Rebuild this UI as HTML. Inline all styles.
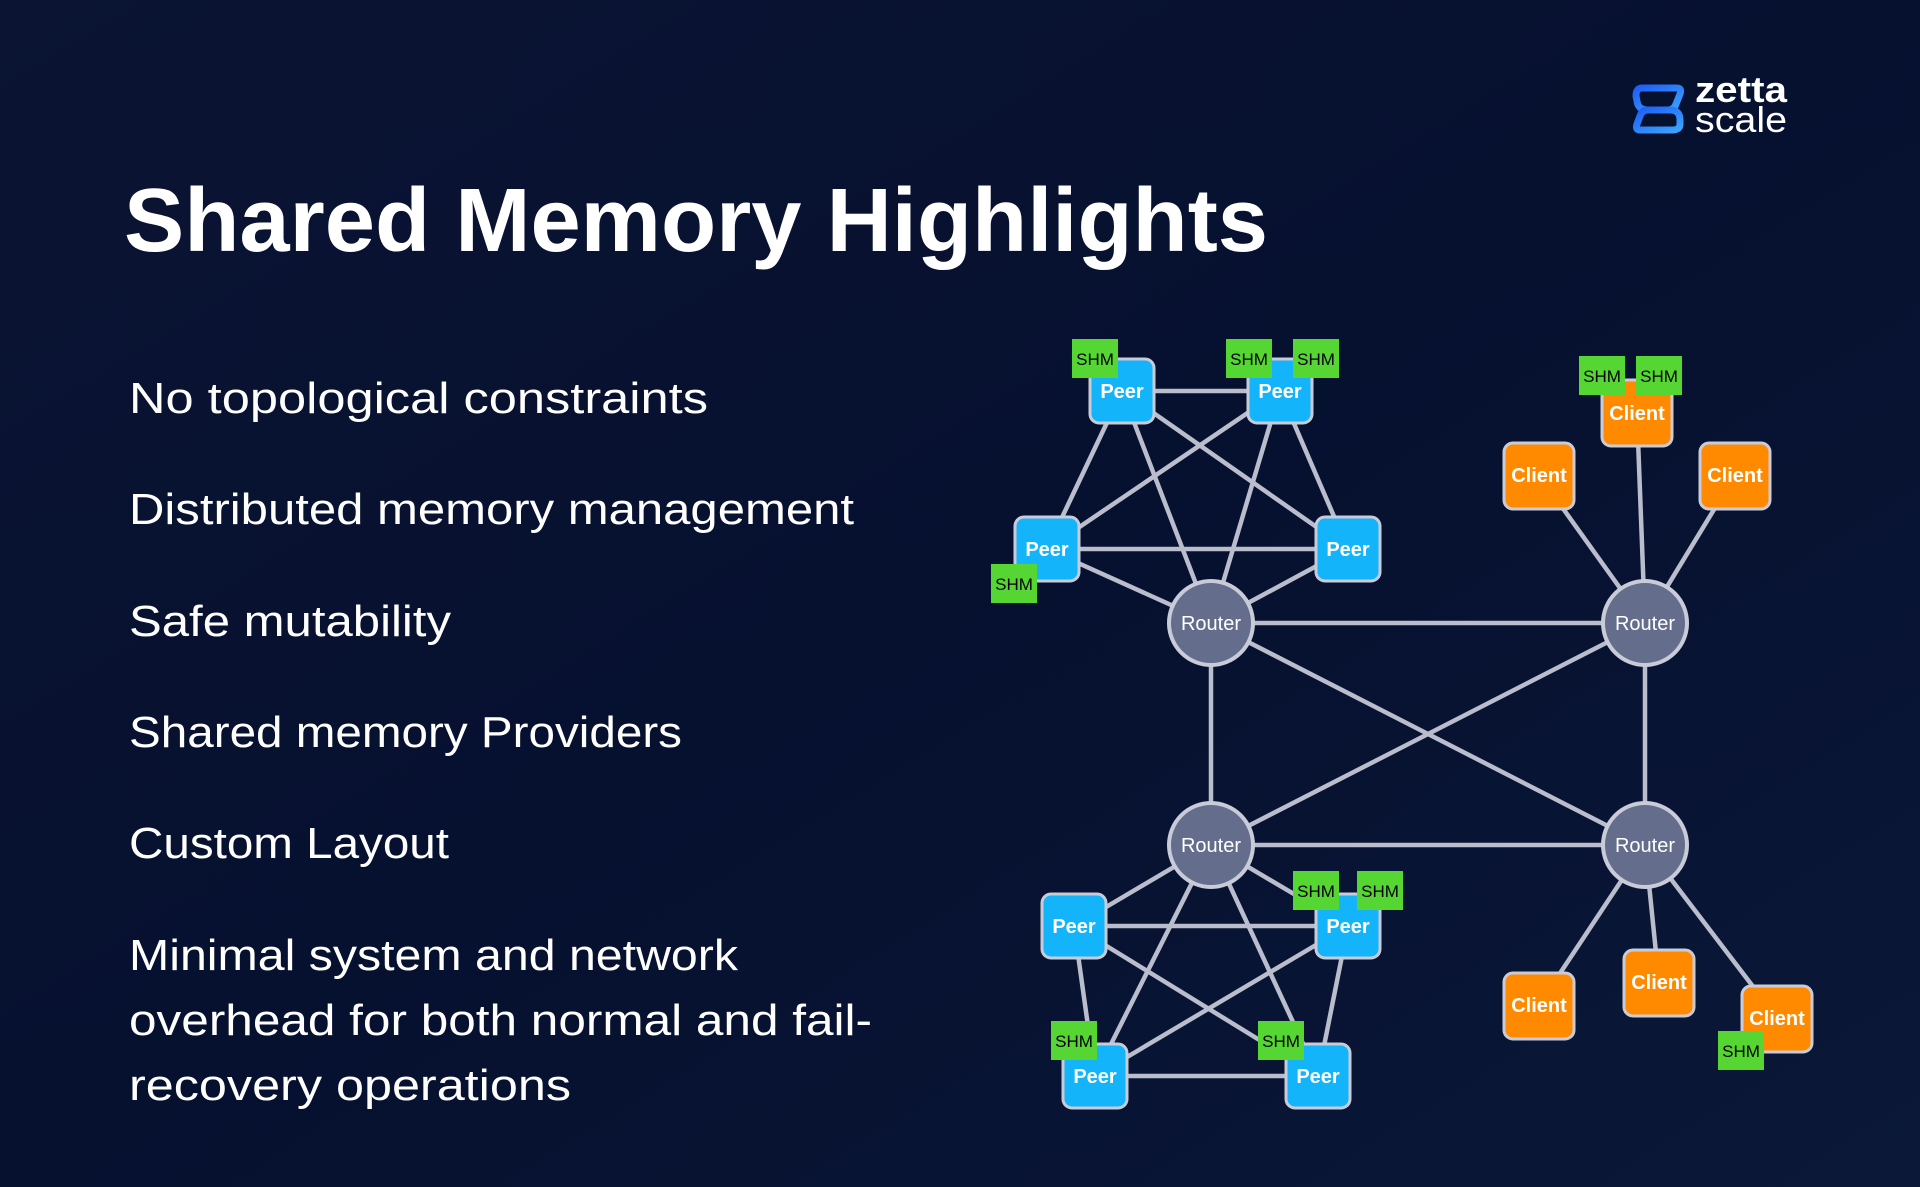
<!DOCTYPE html>
<html><head><meta charset="utf-8"><style>
html,body{margin:0;padding:0;background:#07102e;}
svg{display:block}
</style></head><body>
<svg width="1920" height="1187" viewBox="0 0 1920 1187" xmlns="http://www.w3.org/2000/svg">
<defs>
<linearGradient id="bg" x1="0" y1="0" x2="1" y2="1">
<stop offset="0" stop-color="#0b1433"/><stop offset="0.5" stop-color="#06102f"/><stop offset="1" stop-color="#0b1838"/>
</linearGradient>
<linearGradient id="lg" x1="0" y1="0" x2="1" y2="1"><stop offset="0" stop-color="#1f5ff5"/><stop offset="1" stop-color="#3aa3ff"/></linearGradient>
</defs>
<rect width="1920" height="1187" fill="url(#bg)"/>

<!-- logo -->
<g fill="none" stroke="url(#lg)" stroke-width="7" stroke-linejoin="round">
<path d="M1642 88 L1677 88 Q1682 88 1680 94 L1676 104 Q1674 110 1668 110 L1648 110 Q1638 110 1637 101 L1636 96 Q1636 88 1642 88 Z"/>
<path d="M1648 110 L1670 110 Q1680 110 1680 120 L1680 124 Q1680 130 1672 130 L1640 130 Q1635 130 1637 124 L1640 116 Q1642 110 1648 110 Z"/>
</g>
<g font-family="Liberation Sans, sans-serif" fill="#ffffff" font-size="36">
<text x="1695" y="102" font-weight="bold" textLength="92" lengthAdjust="spacingAndGlyphs">zetta</text>
<text x="1695" y="132" textLength="92" lengthAdjust="spacingAndGlyphs">scale</text>
</g>

<!-- title -->
<text x="124" y="251" font-family="Liberation Sans, sans-serif" font-weight="bold" font-size="90" fill="#ffffff" textLength="1144" lengthAdjust="spacingAndGlyphs">Shared Memory Highlights</text>

<g font-family="Liberation Sans, sans-serif" font-size="44" fill="#ffffff">
<text x="129" y="413" textLength="579" lengthAdjust="spacingAndGlyphs">No topological constraints</text>
<text x="129" y="524" textLength="725" lengthAdjust="spacingAndGlyphs">Distributed memory management</text>
<text x="129" y="636" textLength="322" lengthAdjust="spacingAndGlyphs">Safe mutability</text>
<text x="129" y="747" textLength="553" lengthAdjust="spacingAndGlyphs">Shared memory Providers</text>
<text x="129" y="858" textLength="320" lengthAdjust="spacingAndGlyphs">Custom Layout</text>
<text x="129" y="970" textLength="609" lengthAdjust="spacingAndGlyphs">Minimal system and network</text>
<text x="129" y="1035" textLength="743" lengthAdjust="spacingAndGlyphs">overhead for both normal and fail-</text>
<text x="129" y="1100" textLength="442" lengthAdjust="spacingAndGlyphs">recovery operations</text>
</g>

<!-- edges -->
<g stroke="#b9bdcc" stroke-width="4.5" fill="none">
<!-- top cluster K5: A(1122,391) B(1280,391) C(1047,549) D(1348,549) R(1211,623) -->
<line x1="1122" y1="391" x2="1280" y2="391"/>
<line x1="1122" y1="391" x2="1047" y2="549"/>
<line x1="1122" y1="391" x2="1211" y2="623"/>
<line x1="1122" y1="391" x2="1348" y2="549"/>
<line x1="1280" y1="391" x2="1047" y2="549"/>
<line x1="1280" y1="391" x2="1211" y2="623"/>
<line x1="1280" y1="391" x2="1348" y2="549"/>
<line x1="1047" y1="549" x2="1348" y2="549"/>
<line x1="1047" y1="549" x2="1211" y2="623"/>
<line x1="1348" y1="549" x2="1211" y2="623"/>
<!-- routers -->
<line x1="1211" y1="623" x2="1645" y2="623"/>
<line x1="1211" y1="623" x2="1211" y2="845"/>
<line x1="1211" y1="623" x2="1645" y2="845"/>
<line x1="1645" y1="623" x2="1211" y2="845"/>
<line x1="1645" y1="623" x2="1645" y2="845"/>
<line x1="1211" y1="845" x2="1645" y2="845"/>
<!-- clients top -->
<line x1="1637" y1="413" x2="1645" y2="623"/>
<line x1="1539" y1="475" x2="1645" y2="623"/>
<line x1="1735" y1="475" x2="1645" y2="623"/>
<!-- bottom cluster: E(1074,926) F(1348,926) G(1095,1076) H(1318,1076) R(1211,845) -->
<line x1="1074" y1="926" x2="1348" y2="926"/>
<line x1="1074" y1="926" x2="1095" y2="1076"/>
<line x1="1074" y1="926" x2="1318" y2="1076"/>
<line x1="1074" y1="926" x2="1211" y2="845"/>
<line x1="1348" y1="926" x2="1095" y2="1076"/>
<line x1="1348" y1="926" x2="1318" y2="1076"/>
<line x1="1348" y1="926" x2="1211" y2="845"/>
<line x1="1095" y1="1076" x2="1318" y2="1076"/>
<line x1="1095" y1="1076" x2="1211" y2="845"/>
<line x1="1318" y1="1076" x2="1211" y2="845"/>
<!-- clients bottom -->
<line x1="1539" y1="1005" x2="1645" y2="845"/>
<line x1="1659" y1="982" x2="1645" y2="845"/>
<line x1="1777" y1="1018" x2="1645" y2="845"/>
</g>

<!-- routers -->
<g fill="#646e8c" stroke="#c9ccd8" stroke-width="4">
<circle cx="1211" cy="623" r="42"/>
<circle cx="1645" cy="623" r="42"/>
<circle cx="1211" cy="845" r="42"/>
<circle cx="1645" cy="845" r="42"/>
</g>
<g font-family="Liberation Sans, sans-serif" font-size="20" fill="#ffffff" text-anchor="middle">
<text x="1211" y="630">Router</text><text x="1645" y="630">Router</text>
<text x="1211" y="852">Router</text><text x="1645" y="852">Router</text>
</g>

<!-- peers -->
<g fill="#14b4fb" stroke="#c9ccd8" stroke-width="3">
<rect x="1090" y="359" width="64" height="64" rx="9"/>
<rect x="1248" y="359" width="64" height="64" rx="9"/>
<rect x="1015" y="517" width="64" height="64" rx="9"/>
<rect x="1316" y="517" width="64" height="64" rx="9"/>
<rect x="1042" y="894" width="64" height="64" rx="9"/>
<rect x="1316" y="894" width="64" height="64" rx="9"/>
<rect x="1063" y="1044" width="64" height="64" rx="9"/>
<rect x="1286" y="1044" width="64" height="64" rx="9"/>
</g>
<g fill="#ff8a00" stroke="#c9ccd8" stroke-width="3">
<rect x="1602" y="380" width="70" height="66" rx="9"/>
<rect x="1504" y="443" width="70" height="66" rx="9"/>
<rect x="1700" y="443" width="70" height="66" rx="9"/>
<rect x="1504" y="973" width="70" height="66" rx="9"/>
<rect x="1624" y="950" width="70" height="66" rx="9"/>
<rect x="1742" y="986" width="70" height="66" rx="9"/>
</g>
<g font-family="Liberation Sans, sans-serif" font-weight="bold" font-size="20" fill="#ffffff" text-anchor="middle">
<text x="1122" y="398">Peer</text><text x="1280" y="398">Peer</text>
<text x="1047" y="556">Peer</text><text x="1348" y="556">Peer</text>
<text x="1074" y="933">Peer</text><text x="1348" y="933">Peer</text>
<text x="1095" y="1083">Peer</text><text x="1318" y="1083">Peer</text>
<text x="1637" y="420">Client</text><text x="1539" y="482">Client</text><text x="1735" y="482">Client</text>
<text x="1539" y="1012">Client</text><text x="1659" y="989">Client</text><text x="1777" y="1025">Client</text>
</g>

<!-- SHM -->
<g fill="#55d633">
<rect x="1072" y="339" width="46" height="39"/>
<rect x="1226" y="339" width="46" height="39"/>
<rect x="1293" y="339" width="46" height="39"/>
<rect x="991" y="564" width="46" height="39"/>
<rect x="1579" y="356" width="46" height="39"/>
<rect x="1636" y="356" width="46" height="39"/>
<rect x="1293" y="871" width="46" height="39"/>
<rect x="1357" y="871" width="46" height="39"/>
<rect x="1051" y="1021" width="46" height="39"/>
<rect x="1258" y="1021" width="46" height="39"/>
<rect x="1718" y="1031" width="46" height="39"/>
</g>
<g font-family="Liberation Sans, sans-serif" font-size="17" fill="#000000" text-anchor="middle">
<text x="1095" y="365">SHM</text><text x="1249" y="365">SHM</text><text x="1316" y="365">SHM</text>
<text x="1014" y="590">SHM</text><text x="1602" y="382">SHM</text><text x="1659" y="382">SHM</text>
<text x="1316" y="897">SHM</text><text x="1380" y="897">SHM</text>
<text x="1074" y="1047">SHM</text><text x="1281" y="1047">SHM</text><text x="1741" y="1057">SHM</text>
</g>
</svg>
</body></html>
